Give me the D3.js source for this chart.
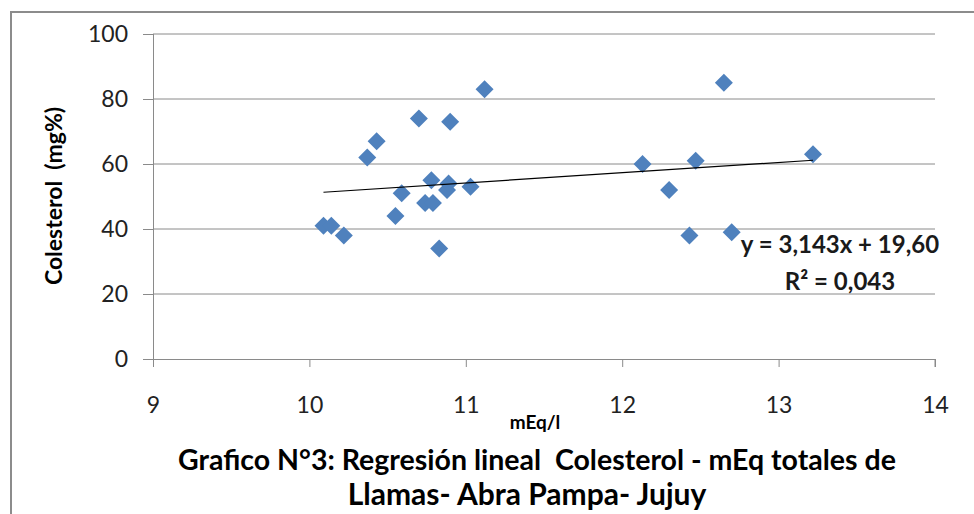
<html>
<head>
<meta charset="utf-8">
<script src="https://d3js.org/d3.v7.min.js"></script>
<style>
body { margin: 0; background: #fff; }
text { font-family: Lato, "Noto Sans", sans-serif; }
</style>
</head>
<body>
<svg width="974" height="514"></svg>
<script>
// data
var mEq = [10.09, 10.14, 10.22, 10.37, 10.43, 10.55, 10.59, 10.70, 10.74, 10.78,
           10.79, 10.83, 10.88, 10.89, 10.90, 11.03, 11.12, 12.13, 12.30, 12.43,
           12.47, 12.65, 12.70, 13.22];
var colesterol = [41, 41, 38, 62, 67, 44, 51, 74, 48, 55,
                  48, 34, 52, 54, 73, 53, 83, 60, 52, 38,
                  61, 85, 39, 63];
var xTicks = [9, 10, 11, 12, 13, 14];
var yTicks = [0, 20, 40, 60, 80, 100];
var slope = 3.143, intercept = 19.60;
var eqLabel = "y = 3,143x + 19,60";
var r2Label = "R² = 0,043";

var svg = d3.select("svg");
var pLeft = 153, pRight = 935, pTop = 34, pBottom = 359;

var xs = d3.scaleLinear().domain([9, 14]).range([pLeft, pRight]);
var ys = d3.scaleLinear().domain([0, 100]).range([pBottom, pTop]);

// outer frame
svg.append("rect").attr("x", 11).attr("y", 12).attr("width", 990).attr("height", 530)
   .attr("fill", "none").attr("stroke", "#8c8c8c").attr("stroke-width", 2);

// gridlines
svg.append("g").selectAll("line").data(yTicks.filter(function(d){ return d > 0; }))
   .enter().append("line")
   .attr("x1", pLeft).attr("x2", pRight)
   .attr("y1", function(d){ return ys(d); }).attr("y2", function(d){ return ys(d); })
   .attr("stroke", "#8a8a8a").attr("stroke-width", 1);

// y axis
var yAxis = svg.append("g").attr("transform", "translate(" + pLeft + ",0)")
   .call(d3.axisLeft(ys).tickValues(yTicks).tickSize(10).tickPadding(15).tickFormat(d3.format("d")));
// x axis
var xAxis = svg.append("g").attr("transform", "translate(0," + pBottom + ")")
   .call(d3.axisBottom(xs).tickValues(xTicks).tickSize(8).tickPadding(30).tickFormat(d3.format("d")));

[yAxis, xAxis].forEach(function(a){
  a.select(".domain").attr("stroke", "#8a8a8a");
  a.selectAll(".tick line").attr("stroke", "#8a8a8a");
  a.selectAll(".tick text").attr("fill", "#222").style("font-size", "23px")
   .style("font-family", "Lato, sans-serif");
});
xAxis.select(".domain").attr("d", "M" + pLeft + ",0.5H" + pRight + "V8");
yAxis.select(".domain").attr("d", "M0.5," + (pBottom + 8) + "V" + pTop);

// points
var pts = mEq.map(function(d, i){ return {x: d, y: colesterol[i]}; });
svg.append("g").selectAll("path").data(pts).enter().append("path")
   .attr("d", d3.symbol().type(d3.symbolSquare).size(162))
   .attr("transform", function(d){ return "translate(" + xs(d.x) + "," + ys(d.y) + ") rotate(45)"; })
   .attr("fill", "#4f81bd");

// trend line
var ext = d3.extent(mEq);
svg.append("line")
   .attr("x1", xs(ext[0])).attr("y1", ys(slope * ext[0] + intercept))
   .attr("x2", xs(ext[1])).attr("y2", ys(slope * ext[1] + intercept))
   .attr("stroke", "#000").attr("stroke-width", 1.2);

// equation
svg.append("text").attr("x", 840).attr("y", 253).attr("text-anchor", "middle")
   .style("font-size", "24px").style("font-weight", "bold").attr("fill", "#1a1a1a").text(eqLabel);
svg.append("text").attr("x", 840).attr("y", 290).attr("text-anchor", "middle")
   .style("font-size", "24px").style("font-weight", "bold").attr("fill", "#1a1a1a").text(r2Label);

// axis titles
svg.append("text").attr("x", 535).attr("y", 429).attr("text-anchor", "middle")
   .style("font-size", "19px").style("font-weight", "bold").text("mEq/l");
svg.append("text").attr("transform", "translate(62,196) rotate(-90)").attr("text-anchor", "middle")
   .attr("xml:space", "preserve")
   .style("font-size", "23px").style("font-weight", "bold").text("Colesterol  (mg%)");

// chart title
svg.append("text").attr("x", 537).attr("y", 470).attr("text-anchor", "middle")
   .attr("xml:space", "preserve")
   .style("font-size", "28.5px").style("font-weight", "bold")
   .text("Grafico N°3: Regresión lineal  Colesterol - mEq totales de");
svg.append("text").attr("x", 527).attr("y", 505).attr("text-anchor", "middle")
   .attr("xml:space", "preserve")
   .style("font-size", "30px").style("font-weight", "bold")
   .text("Llamas- Abra Pampa- Jujuy");
</script>
</body>
</html>
